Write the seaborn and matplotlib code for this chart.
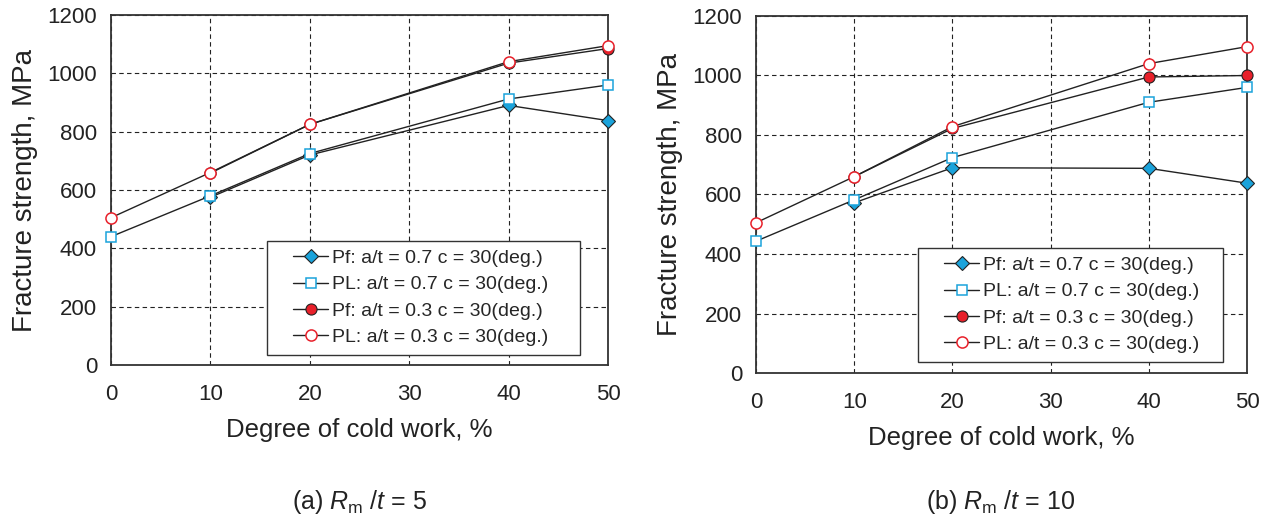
import matplotlib
matplotlib.use("Agg")
import matplotlib.pyplot as plt
from matplotlib.lines import Line2D
from matplotlib.legend_handler import HandlerLine2D
import seaborn as sns
import pandas as pd

sns.set_theme(style="white")
plt.rcParams["font.family"] = ["Liberation Sans", "DejaVu Sans"]
plt.rcParams["mathtext.fontset"] = "custom"
plt.rcParams["mathtext.rm"] = "Liberation Sans"
plt.rcParams["mathtext.it"] = "Liberation Sans:italic"

# Degree of cold work (%)
cold_work = [0, 10, 20, 40, 50]
cold_work_pf = [10, 20, 40, 50]

# (a) Rm/t = 5
a_pf_07 = [575, 720, 890, 838]
a_pl_07 = [440, 580, 725, 912, 960]
a_pf_03 = [658, 825, 1035, 1085]
a_pl_03 = [505, 660, 825, 1040, 1095]

# (b) Rm/t = 10
b_pf_07 = [572, 690, 688, 638]
b_pl_07 = [443, 582, 724, 910, 960]
b_pf_03 = [660, 822, 995, 1000]
b_pl_03 = [505, 660, 828, 1040, 1097]

labels = [
    "Pf: a/t = 0.7 c = 30(deg.)",
    "PL: a/t = 0.7 c = 30(deg.)",
    "Pf: a/t = 0.3 c = 30(deg.)",
    "PL: a/t = 0.3 c = 30(deg.)",
]

y_ticks = [0, 200, 400, 600, 800, 1000, 1200]
x_ticks = [0, 10, 20, 30, 40, 50]

BLUE = "#1ba3db"
RED = "#e8202a"
INK = "#222222"

styles = [
    dict(marker="D", markersize=7.2, markerfacecolor=BLUE, markeredgecolor=INK, markeredgewidth=0.8),
    dict(marker="s", markersize=7.8, markerfacecolor="white", markeredgecolor=BLUE, markeredgewidth=1.1),
    dict(marker="o", markersize=8.0, markerfacecolor=RED, markeredgecolor=INK, markeredgewidth=0.8),
    dict(marker="o", markersize=8.0, markerfacecolor="white", markeredgecolor=RED, markeredgewidth=1.1),
]


class LeadInLineHandler(HandlerLine2D):
    """Legend line handle with blank space before the line sample."""

    def __init__(self, lead, **kw):
        super().__init__(**kw)
        self.lead = lead

    def get_xdata(self, legend, xdescent, ydescent, width, height, fontsize):
        x0 = -xdescent + self.lead * fontsize
        x1 = -xdescent + width
        return [x0, x1], [0.5 * (x0 + x1)]


def draw_panel(ax, series, legend_box):
    xs = [cold_work_pf, cold_work, cold_work_pf, cold_work]
    for x, y, lab, st in zip(xs, series, labels, styles):
        df = pd.DataFrame({"cold": x, "strength": y})
        sns.lineplot(data=df, x="cold", y="strength", ax=ax, color=INK,
                     linewidth=1.0, label=lab, clip_on=False, zorder=3, **st)
    ax.set_xlim(0, 50)
    ax.set_ylim(0, 1200)
    ax.set_xticks(x_ticks)
    ax.set_yticks(y_ticks)
    ax.grid(True, color=INK, linestyle=(0, (4, 3)), linewidth=0.8)
    for sp in ax.spines.values():
        sp.set_color("#333333")
        sp.set_linewidth(1.3)
        sp.set_zorder(2)
    ax.tick_params(axis="both", length=0, labelsize=16, colors=INK)
    ax.tick_params(axis="x", pad=14)
    ax.tick_params(axis="y", pad=10)
    ax.set_xlabel("Degree of cold work, %", fontsize=18.5, color=INK, labelpad=9)
    ax.set_ylabel("Fracture strength, MPa", fontsize=20, color=INK, labelpad=7)
    leg = ax.legend(loc="lower left", bbox_to_anchor=legend_box, mode="expand",
                    borderaxespad=0, fontsize=14, frameon=True, fancybox=False,
                    handlelength=2.7, handletextpad=0.2, labelspacing=0.45,
                    borderpad=0.45,
                    handler_map={Line2D: LeadInLineHandler(lead=0.9)})
    leg.get_frame().set_edgecolor("#333333")
    leg.get_frame().set_linewidth(1.0)
    leg.get_frame().set_alpha(1)


fig = plt.figure(figsize=(12.74, 5.19), dpi=100)
ax1 = fig.add_axes([111 / 1274, 1 - 365 / 519, 497 / 1274, 350 / 519])
ax2 = fig.add_axes([756 / 1274, 1 - 373 / 519, 491 / 1274, 357 / 519])

draw_panel(ax1, [a_pf_07, a_pl_07, a_pf_03, a_pl_03], (0.314, 0.029, 0.630, 0.3))
draw_panel(ax2, [b_pf_07, b_pl_07, b_pf_03, b_pl_03], (0.330, 0.031, 0.621, 0.3))

fig.text(359 / 1274, 1 - 502 / 519, r"(a) $R_\mathrm{m}$ /$t$ = 5", ha="center", va="center",
         fontsize=18, color=INK)
fig.text(1001 / 1274, 1 - 502 / 519, r"(b) $R_\mathrm{m}$ /$t$ = 10", ha="center", va="center",
         fontsize=18, color=INK)

fig.savefig("out.png", dpi=100)
